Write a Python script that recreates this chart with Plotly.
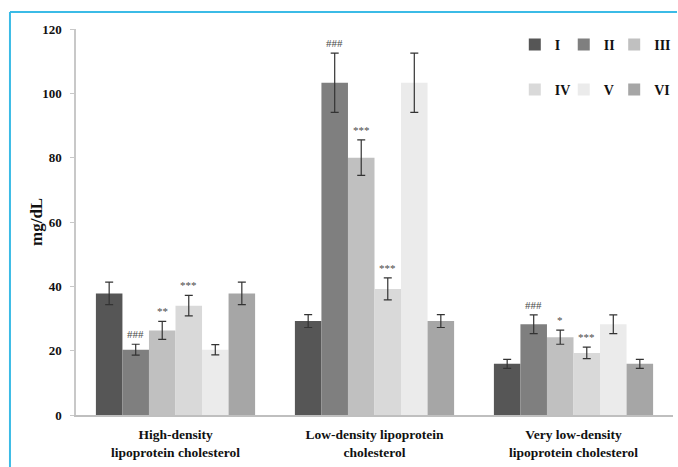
import plotly.graph_objects as go

categories = ["High-density<br>lipoprotein cholesterol",
              "Low-density lipoprotein<br>cholesterol",
              "Very low-density<br>lipoprotein cholesterol"]
series_names = ["I", "II", "III", "IV", "V", "VI"]

vals_I = [37.8, 29.2, 15.9]
vals_II = [20.3, 103.3, 28.2]
vals_III = [26.3, 80.0, 24.2]
vals_IV = [34.0, 39.2, 19.3]
vals_V = [20.3, 103.3, 28.2]
vals_VI = [37.8, 29.2, 15.9]

err_I = [3.5, 2.0, 1.4]
err_II = [1.7, 9.2, 2.9]
err_III = [2.8, 5.5, 2.2]
err_IV = [3.2, 3.4, 1.8]
err_V = [1.6, 9.2, 2.9]
err_VI = [3.5, 2.0, 1.4]

marks_I = ["", "", ""]
marks_II = ["###", "###", "###"]
marks_III = ["**", "***", "*"]
marks_IV = ["***", "***", "***"]
marks_V = ["", "", ""]
marks_VI = ["", "", ""]

all_vals = [vals_I, vals_II, vals_III, vals_IV, vals_V, vals_VI]
all_errs = [err_I, err_II, err_III, err_IV, err_V, err_VI]
all_marks = [marks_I, marks_II, marks_III, marks_IV, marks_V, marks_VI]
colors = ["#565656", "#7f7f7f", "#c0c0c0", "#d9d9d9", "#ebebeb", "#a6a6a6"]

FONT = "Liberation Serif"

legend_ids = ["legend", "legend2", "legend3", "legend4", "legend5", "legend6"]
legend_x = [0.735, 0.817, 0.9015, 0.735, 0.817, 0.9015]
legend_y = [0.9585, 0.9585, 0.9585, 0.842, 0.842, 0.842]

fig = go.Figure()
for i, name in enumerate(series_names):
    fig.add_trace(go.Bar(
        x=categories, y=all_vals[i], name=name,
        marker=dict(color=colors[i], line=dict(width=0)),
        error_y=dict(type="data", array=all_errs[i], visible=True,
                     color="#333333", thickness=1.2, width=4),
        legend=legend_ids[i],
        offsetgroup=str(i),
    ))

# significance marks
n = len(series_names)
for i in range(n):
    for j, cat in enumerate(categories):
        m = all_marks[i][j]
        if not m:
            continue
        fig.add_annotation(
            x=cat, y=all_vals[i][j] + all_errs[i][j], text=m,
            showarrow=False, yanchor="bottom", yshift=2,
            xshift=(i - (n - 1) / 2) * 26.5,
            font=dict(family=FONT, size=11, color="#4a4a4a"),
        )

# y-axis title as rotated annotation
fig.add_annotation(xref="paper", yref="paper", x=-0.067, y=0.5, text="mg/dL",
                   textangle=-90, showarrow=False, xanchor="center", yanchor="middle",
                   font=dict(family=FONT, size=17, color="#111111", weight="bold"))

legend_font = dict(family=FONT, size=14, color="#111111", weight="bold")
legends = {}
for i, lid in enumerate(legend_ids):
    legends[lid] = dict(x=legend_x[i], y=legend_y[i], xanchor="left", yanchor="middle",
                        font=legend_font, itemwidth=30, bgcolor="rgba(0,0,0,0)")

fig.update_layout(
    width=678, height=467,
    margin=dict(l=76, r=5, t=29, b=52, autoexpand=False),
    paper_bgcolor="white", plot_bgcolor="white",
    barmode="group", bargap=0.2, bargroupgap=0,
    font=dict(family=FONT, color="#111111"),
    xaxis=dict(showline=True, linecolor="#bfbfbf", linewidth=1.5, ticks="",
               ticklabelstandoff=6,
               tickfont=dict(family=FONT, size=13.5, color="#111111", weight="bold"),
               showgrid=False),
    yaxis=dict(range=[0, 120], dtick=20, showline=True, linecolor="#c8c8c8", linewidth=1.5,
               ticks="outside", ticklen=4, tickcolor="#c8c8c8", showgrid=False, zeroline=False,
               ticklabelstandoff=6,
               tickfont=dict(family=FONT, size=13, color="#111111", weight="bold")),
    showlegend=True,
    **legends,
)

# cyan frame (top and left)
fig.add_shape(type="line", xref="paper", yref="paper", x0=-0.1106, x1=1.0067, y0=1.044, y1=1.044,
              line=dict(color="#3bbbe6", width=2))
fig.add_shape(type="line", xref="paper", yref="paper", x0=-0.1106, x1=-0.1106, y0=-0.2, y1=1.044,
              line=dict(color="#3bbbe6", width=2))

fig.write_html("out.html")
